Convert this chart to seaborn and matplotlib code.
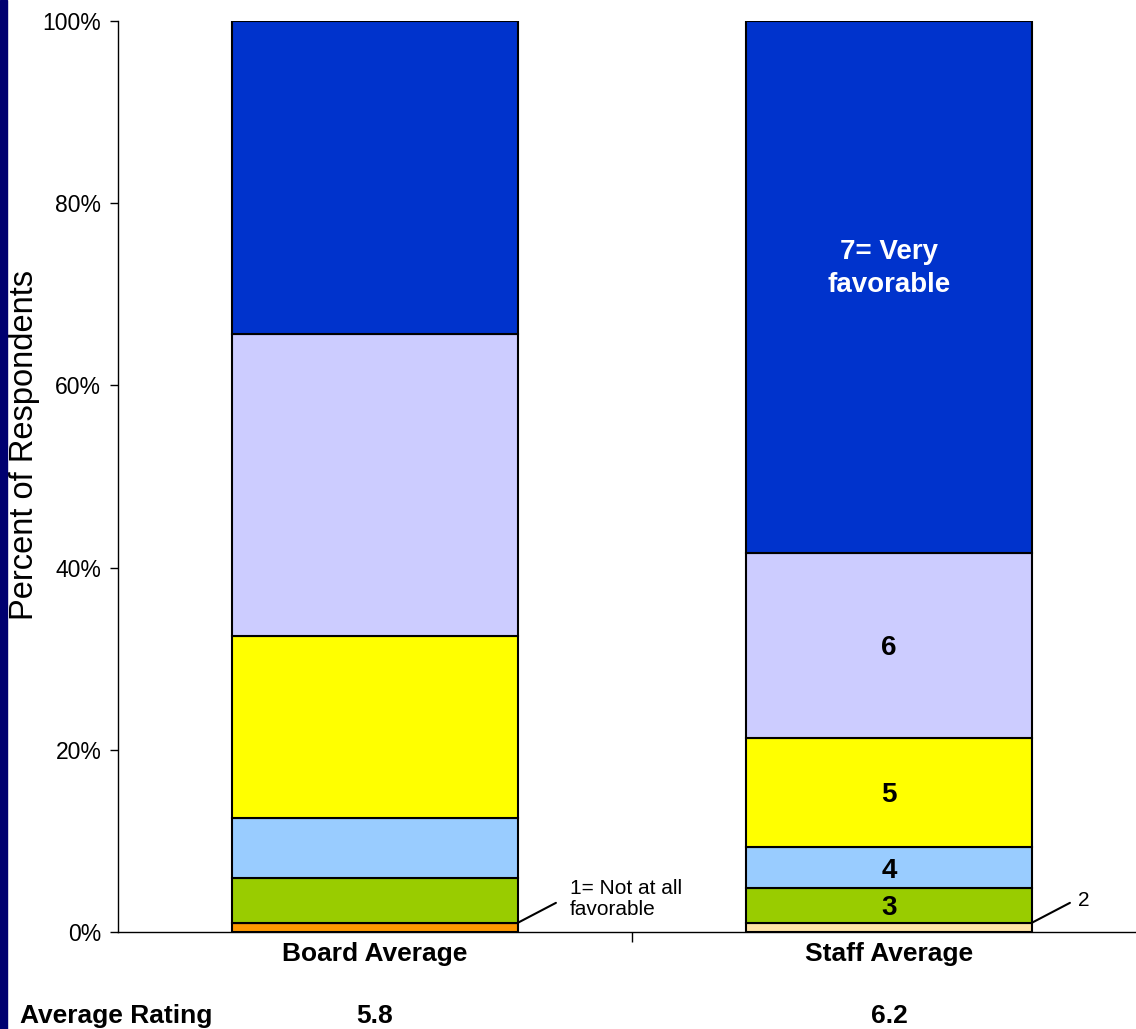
import numpy as np
import pandas as pd
import seaborn as sns
import matplotlib.pyplot as plt
from matplotlib.patches import Rectangle

groups = ['Board Average', 'Staff Average']
ratings = ['1', '2', '3', '4', '5', '6', '7']
board = [1.0, 0.0, 4.9, 6.6, 20.0, 33.1, 34.4]
staff = [0.0, 1.0, 3.8, 4.5, 12.0, 20.3, 58.4]
averages = ['5.8', '6.2']
colors = ['#FF9900', '#FFE4A6', '#99CC00', '#99CCFF', '#FFFF00', '#CCCCFF', '#0033CC']

sns.set_theme(style='white')
plt.rcParams['font.family'] = ['Liberation Sans', 'DejaVu Sans']
plt.rcParams['text.color'] = 'black'
plt.rcParams['axes.labelcolor'] = 'black'
plt.rcParams['xtick.color'] = 'black'
plt.rcParams['ytick.color'] = 'black'

fig = plt.figure(figsize=(11.36, 10.29), dpi=100)
ax = fig.add_axes([118 / 1136, 97 / 1029, 1028 / 1136, 911 / 1029])

bottom = np.zeros(2)
for i, r in enumerate(ratings):
    df = pd.DataFrame({'group': groups, 'pct': [board[i], staff[i]]})
    sns.barplot(data=df, x='group', y='pct', bottom=bottom, color=colors[i],
                width=0.555, edgecolor='black', linewidth=1.5, saturation=1, ax=ax)
    bottom = bottom + df['pct'].values

ax.set_xlim(-0.5, 1.5)
ax.set_ylim(0, 100)
ax.set_yticks([0, 20, 40, 60, 80, 100])
ax.set_yticklabels(['0%', '20%', '40%', '60%', '80%', '100%'], fontsize=16.5)
ax.set_ylabel('')
ax.set_xlabel('')
ax.set_xticks([0, 1])
ax.set_xticklabels(groups, fontsize=19, fontweight='bold')
ax.set_xticks([0.5], minor=True)
ax.tick_params(axis='x', which='major', length=0, pad=7)
ax.tick_params(axis='x', which='minor', length=7, width=1, direction='out', bottom=True)
ax.tick_params(axis='y', length=6, width=1, direction='out', left=True, pad=6)
for s in ['top', 'right']:
    ax.spines[s].set_visible(False)
for s in ['left', 'bottom']:
    ax.spines[s].set_color('black')
    ax.spines[s].set_linewidth(1)

fig.text(25 / 1136, 1 - 445 / 1029, 'Percent of Respondents', fontsize=23.5,
         rotation=90, ha='center', va='center')

# segment labels on staff bar
cum = np.cumsum(staff)
mid = cum - np.array(staff) / 2
for i, lab in [(2, '3'), (3, '4'), (4, '5'), (5, '6')]:
    ax.text(1, mid[i] - 0.3, lab, ha='center', va='center', fontsize=20, fontweight='bold')
ax.text(1, 72.8, '7= Very\nfavorable', ha='center', va='center', fontsize=20,
        fontweight='bold', color='white', linespacing=1.35)

# callouts
ax.text(0.379, 3.6, '1= Not at all\nfavorable', fontsize=15, ha='left', va='center', linespacing=1.1)
ax.plot([0.2775, 0.352], [1.0, 3.2], color='black', lw=1.5, clip_on=False)
ax.text(1.368, 3.5, '2', fontsize=15, ha='left', va='center')
ax.plot([1.2775, 1.352], [1.0, 3.2], color='black', lw=1.5, clip_on=False)

# average rating row
yrow = (1029 - 1016) / 1029
fig.text(20 / 1136, yrow, 'Average Rating', fontsize=19, fontweight='bold', ha='left', va='center')
for x, a in zip([0, 1], averages):
    xf = (118 + 514 * (x + 0.5)) / 1136
    fig.text(xf, yrow, a, fontsize=19, fontweight='bold', ha='center', va='center')

fig.add_artist(Rectangle((0, 0), 7 / 1136, 1, transform=fig.transFigure, color='#000070', zorder=10))

fig.savefig('out.png', dpi=100)
